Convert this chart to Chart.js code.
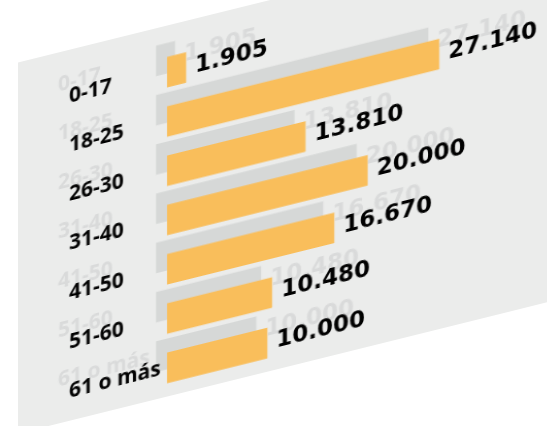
<!DOCTYPE html>
<html>
<head>
<meta charset="utf-8">
<script src="https://cdn.jsdelivr.net/npm/chart.js@4.4.1/dist/chart.umd.min.js"></script>
<style>
  html, body { margin: 0; padding: 0; background: #fff; overflow: hidden; }
  body { width: 547px; height: 426px; position: relative; }
  /* everything is drawn flat, then slanted as a whole */
  #plane {
    position: absolute; left: 0; top: 0;
    width: 547px; height: 600px;
    transform-origin: 0 0;
    transform: skewY(-13.93deg);
  }
  #panel {
    position: absolute; left: 18px; top: 67px;
    width: 620px; height: 371px;
    background: #ebeceb;
  }
  canvas { position: absolute; left: 0; top: 0; }
  #shadow { left: -11px; top: -14.2px; }
</style>
</head>
<body>
<div id="plane">
  <div id="panel"></div>
  <canvas id="shadow" width="547" height="600"></canvas>
  <canvas id="front" width="547" height="600"></canvas>
</div>
<script>
const ageGroups = ['0-17', '18-25', '26-30', '31-40', '41-50', '51-60', '61 o más'];
const amounts = [1905, 27140, 13810, 20000, 16670, 10480, 10000];

// 27.140 -> "27.140"
const fmt = v => String(v).replace(/\B(?=(\d{3})+(?!\d))/g, '.');

const valueLabels = {
  id: 'valueLabels',
  afterDatasetsDraw(chart, args, opts) {
    const ctx = chart.ctx;
    const meta = chart.getDatasetMeta(0);
    ctx.save();
    ctx.font = 'bold 23px "DejaVu Sans"';
    ctx.fillStyle = opts.color;
    ctx.textAlign = 'left';
    ctx.textBaseline = 'alphabetic';
    meta.data.forEach((bar, i) => {
      ctx.fillText(fmt(chart.data.datasets[0].data[i]), bar.x + 9, bar.y + 7);
    });
    ctx.restore();
  }
};

function makeChart(id, barColor, textColor) {
  return new Chart(document.getElementById(id), {
    type: 'bar',
    data: {
      labels: ageGroups,
      datasets: [{
        data: amounts,
        backgroundColor: barColor,
        borderWidth: 0,
        barPercentage: 0.62,
        categoryPercentage: 1
      }]
    },
    options: {
      indexAxis: 'y',
      responsive: false,
      animation: false,
      events: [],
      layout: { padding: { left: 69, right: 79, top: 89, bottom: 166 } },
      plugins: {
        legend: { display: false },
        tooltip: { enabled: false },
        valueLabels: { color: textColor }
      },
      scales: {
        x: { display: false, min: 0, max: 30000 },
        y: {
          grid: { display: false },
          border: { display: false },
          afterFit: s => { s.width = 98; },
          ticks: {
            crossAlign: 'far',
            color: textColor,
            font: { family: '"Open Sans"', size: 21, weight: '700' }
          }
        }
      }
    },
    plugins: [valueLabels]
  });
}

makeChart('shadow', '#d6d8d7', '#d9dada');
makeChart('front', '#f9be5b', '#000000');
</script>
</body>
</html>
